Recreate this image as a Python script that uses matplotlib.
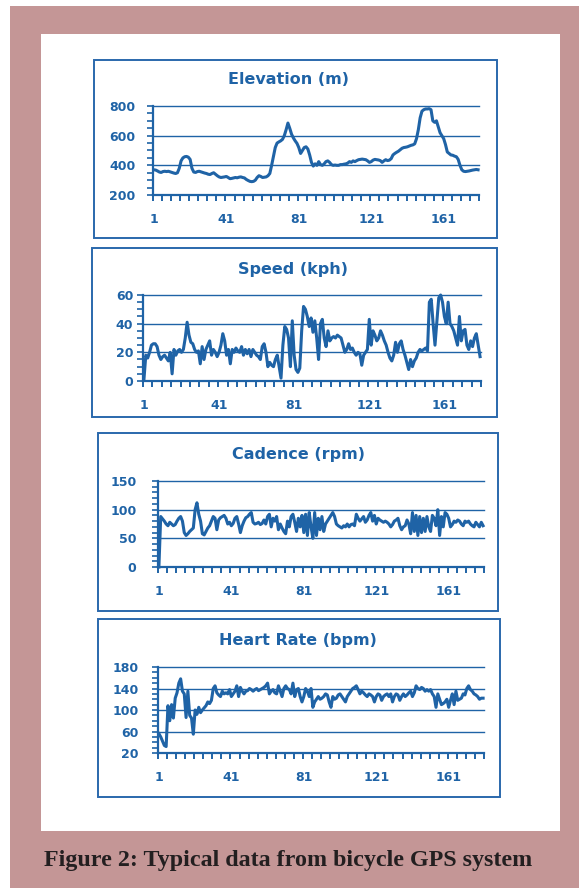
import numpy as np
import matplotlib.pyplot as plt
from matplotlib.patches import Rectangle

W, H = 579, 888
BLUE = '#1F63A6'
PINK = '#C49696'

# GPS log, one sample per record
elevation = [
    370, 368, 362, 355, 352, 358, 360, 358, 360, 356,
    352, 348, 345, 350, 380, 430, 450, 458, 460, 455,
    440, 380, 355, 352, 358, 360, 356, 352, 348, 345,
    340, 338, 345, 350, 340, 330, 322, 318, 320, 322,
    325, 318, 310, 312, 315, 318, 316, 320, 322, 318,
    315, 305, 298, 292, 290, 292, 300, 318, 330, 325,
    318, 320, 322, 330, 345, 400, 460, 520, 550, 558,
    565, 575, 600, 640, 685, 650, 610, 585, 565, 548,
    520, 480, 500, 520, 525, 510, 470, 420, 395, 410,
    400, 425, 405, 400, 410, 425, 430, 420, 405, 400,
    402, 400, 400, 405, 405, 408, 410, 415, 425, 420,
    430, 425, 432, 438, 440, 442, 440, 438, 430, 420,
    425, 435, 440, 438, 436, 432, 420, 430, 438, 432,
    435, 445, 470, 480, 488, 495, 505, 515, 520, 522,
    525, 530, 535, 538, 545, 580, 640, 720, 765, 775,
    780, 780, 782, 775, 700, 690, 700, 660, 620, 600,
    580, 540, 490, 480, 470, 468, 462, 458, 440, 400,
    370, 360, 358, 360, 362, 365, 368, 370, 372, 370,
]
speed = [
    1, 18, 16, 20, 25, 26, 26, 24, 18, 15,
    17, 18, 16, 14, 20, 5, 22, 18, 21, 22,
    20, 22, 30, 41, 32, 27, 26, 22, 20, 21,
    12, 24, 15, 22, 25, 28, 18, 22, 20, 17,
    20, 25, 33, 28, 18, 22, 12, 22, 20, 23,
    21, 20, 24, 18, 22, 19, 22, 17, 22, 20,
    18, 17, 15, 24, 26, 20, 10, 13, 11, 10,
    15, 18, 10, 2, 25, 38, 36, 30, 10, 42,
    18, 8, 6, 9, 35, 52, 50, 45, 38, 44,
    34, 42, 30, 15, 40, 43, 30, 24, 35, 28,
    30, 31, 30, 32, 31, 30, 25, 20, 22, 26,
    22, 23, 20, 18, 20, 19, 11, 18, 20, 22,
    43, 25, 35, 32, 28, 30, 35, 32, 28, 25,
    20, 16, 14, 18, 27, 20, 26, 28, 22, 18,
    13, 8, 15, 10, 14, 16, 20, 22, 21, 22,
    23, 21, 55, 57, 40, 25, 42, 58, 60, 55,
    45, 40, 55, 40, 38, 35, 30, 25, 45, 28,
    35, 36, 25, 22, 28, 24, 30, 33, 25, 17,
]
cadence = [
    0, 88, 84, 80, 75, 72, 78, 75, 72, 74,
    80, 85, 88, 80, 60, 55, 58, 62, 65, 68,
    100, 112, 92, 80, 58, 56, 62, 68, 72, 80,
    88, 85, 65, 82, 86, 88, 90, 85, 75, 78,
    72, 76, 85, 88, 75, 60, 72, 80, 86, 88,
    92, 95, 78, 75, 76, 78, 74, 76, 82, 75,
    88, 92, 70, 85, 80, 88, 65, 75, 68, 62,
    58, 80, 70, 88, 92, 78, 62, 85, 70, 90,
    60, 92, 55, 95, 70, 50, 95, 55, 85, 65,
    88, 62, 75, 80, 85, 90, 95, 88, 75, 72,
    70, 68, 72, 70, 75, 70, 74, 75, 72, 92,
    85, 80, 84, 88, 78, 82, 90, 95, 80, 90,
    75, 85, 82, 80, 78, 80, 78, 75, 70, 74,
    80, 82, 85, 72, 65, 70, 72, 82, 75, 58,
    95, 62, 90, 55, 88, 60, 85, 62, 88, 70,
    62, 90, 85, 72, 100, 55, 88, 70, 95, 92,
    85, 70, 74, 80, 78, 82, 80, 75, 72, 80,
    78, 80, 75, 72, 70, 78, 74, 70, 78, 72,
]
heart_rate = [
    56, 50, 42, 34, 32, 108, 80, 110, 85, 122,
    132, 150, 158, 135, 130, 86, 135, 90, 85, 55,
    100, 92, 105, 95, 100, 104, 108, 115, 112, 118,
    140, 145, 132, 128, 125, 135, 130, 132, 130, 138,
    125, 130, 135, 145, 125, 142, 135, 130, 135, 136,
    140, 138, 135, 138, 140, 136, 138, 140, 142, 145,
    150, 130, 135, 138, 132, 130, 145, 135, 125, 140,
    145, 140, 138, 130, 150, 125, 138, 140, 125, 115,
    125, 140, 135, 125, 140, 105, 115, 120, 125, 120,
    122, 125, 130, 128, 115, 105, 125, 120, 122, 128,
    130, 125, 120, 115, 125, 130, 135, 140, 142, 145,
    138, 130, 135, 132, 128, 125, 130, 128, 125, 115,
    125, 130, 128, 118, 125, 128, 130, 125, 130, 115,
    125, 130, 128, 118, 125, 130, 125, 128, 132, 135,
    125, 132, 145, 140, 138, 142, 140, 135, 138, 135,
    138, 130, 125, 105, 130, 120, 110, 112, 115, 120,
    105, 118, 130, 110, 135, 118, 120, 122, 130, 128,
    140, 145, 138, 135, 130, 128, 125, 120, 122, 122,
]
x_labels = [1, 41, 81, 121, 161]

# layout in pixels, (left, top, right, bottom)
panels = [
    dict(title='Elevation (m)', data=elevation, box=(94, 60, 497, 238),
         plot=(153, 106, 479, 195), title_xy=(288, 80),
         ylim=(200, 800), major=200, minor=50, ypad=8.6),
    dict(title='Speed (kph)', data=speed, box=(92, 248, 497, 417),
         plot=(143, 295, 481, 381), title_xy=(293, 269),
         ylim=(0, 60), major=20, minor=5, ypad=3.0),
    dict(title='Cadence (rpm)', data=cadence, box=(98, 433, 498, 611),
         plot=(158, 481, 484, 567), title_xy=(298, 454),
         ylim=(0, 150), major=50, minor=10, ypad=11.5),
    dict(title='Heart Rate (bpm)', data=heart_rate, box=(98, 619, 500, 797),
         plot=(158, 667, 484, 753), title_xy=(298, 640),
         ylim=(20, 180), major=40, minor=10, ypad=10.0),
]


def frac(x0, y0, x1, y1):
    return [x0 / W, 1 - y1 / H, (x1 - x0) / W, (y1 - y0) / H]


def add_rect(fig, x0, y0, x1, y1, **kw):
    fig.add_artist(Rectangle((x0 / W, 1 - y1 / H), (x1 - x0) / W, (y1 - y0) / H,
                             transform=fig.transFigure, **kw))


fig = plt.figure(figsize=(W / 100, H / 100), dpi=100, facecolor='white')

# page background and card
add_rect(fig, 10, 6, W, H, facecolor=PINK, edgecolor='none', zorder=0)
add_rect(fig, 41, 34, 560, 831, facecolor='white', edgecolor='none', zorder=0)

for p in panels:
    add_rect(fig, *p['box'], facecolor='none', edgecolor='#2A68AC', lw=1.4, zorder=1)
    tx, ty = p['title_xy']
    fig.text(tx / W, 1 - ty / H, p['title'], ha='center', va='center',
             fontsize=11.5, fontweight='bold', color=BLUE)

    data = np.array(p['data'])
    n = len(data)
    lo, hi = p['ylim']

    ax = fig.add_axes(frac(*p['plot']))
    ax.set_facecolor('none')
    for v in np.arange(lo + p['major'], hi + 1, p['major']):
        ax.axhline(v, color=BLUE, lw=1.0, clip_on=False, zorder=1)
    ax.plot(np.arange(1, n + 1), data, color=BLUE, lw=2.2,
            solid_joinstyle='round', clip_on=False, zorder=3)

    ax.set_xlim(0.5, n + 0.5)
    ax.set_ylim(lo, hi)
    ax.set_xticks(x_labels)
    ax.set_xticks(np.arange(0.5, n + 1, 5), minor=True)
    ax.set_yticks(np.arange(lo, hi + 1, p['major']))
    ax.set_yticks(np.arange(lo, hi + 1, p['minor']), minor=True)

    ax.tick_params(axis='x', which='major', length=0, pad=13,
                   labelsize=9, labelcolor=BLUE)
    ax.tick_params(axis='x', which='minor', length=4, width=1.4,
                   color=BLUE, direction='out')
    ax.tick_params(axis='y', which='both', length=4, width=1.2,
                   color=BLUE, direction='out')
    ax.tick_params(axis='y', which='major', pad=p['ypad'],
                   labelsize=9, labelcolor=BLUE)
    for lab in ax.get_xticklabels() + ax.get_yticklabels():
        lab.set_fontweight('bold')

    for side in ['top', 'right']:
        ax.spines[side].set_visible(False)
    for side in ['left', 'bottom']:
        ax.spines[side].set_color(BLUE)
        ax.spines[side].set_linewidth(1.6)

fig.text(44 / W, 1 - 860 / H, 'Figure 2: Typical data from bicycle GPS system',
         ha='left', va='center', fontsize=17.3, fontweight='bold',
         family='Liberation Serif', color='#231F20')

fig.savefig('out.png', dpi=100)
